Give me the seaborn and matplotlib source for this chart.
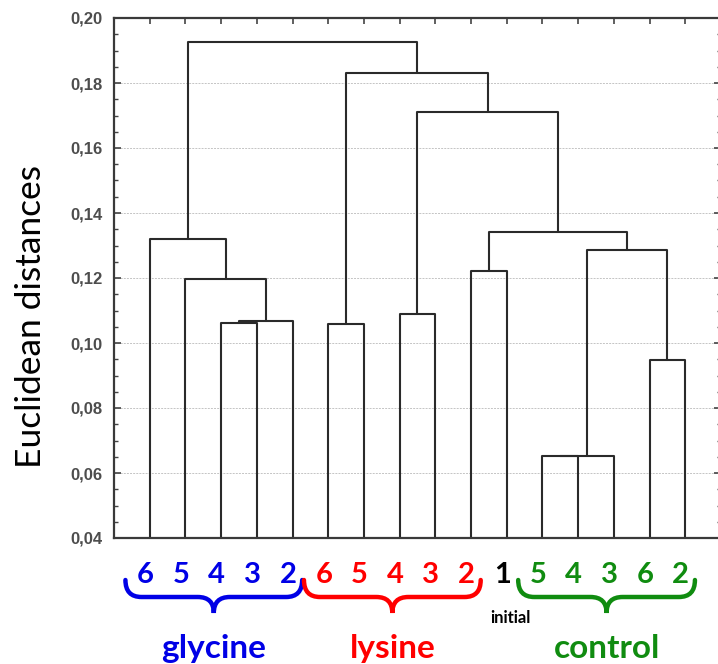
import numpy as np
import pandas as pd
import seaborn as sns
import matplotlib.pyplot as plt
from matplotlib.path import Path
from matplotlib.patches import PathPatch
from matplotlib.ticker import MultipleLocator, FuncFormatter

# leaves in display order
leaf_labels = ['6', '5', '4', '3', '2', '6', '5', '4', '3', '2', '1', '5', '4', '3', '6', '2']
leaf_colors = ['#0000e6'] * 5 + ['#ff0000'] * 5 + ['#000000'] + ['#108c10'] * 5

# merges (left child, right child, distance) -- scipy style ids, leaves 0..15
merge_left = [2, 16, 1, 0, 5, 7, 9, 11, 23, 14, 24, 22, 21, 20, 19]
merge_right = [3, 4, 17, 18, 6, 8, 10, 12, 13, 15, 25, 26, 27, 28, 29]
merge_dist = [0.1063, 0.1069, 0.1197, 0.1319, 0.1058, 0.1089, 0.1222,
              0.0652, 0.0652, 0.0948, 0.1286, 0.1341, 0.1712, 0.1830, 0.1925]

groups = ['glycine', 'lysine', 'control']
group_first = [0, 5, 11]
group_last = [4, 9, 15]
group_colors = ['#0000e6', '#ff0000', '#108c10']

y_min, y_max = 0.04, 0.20

sns.set_style('white')
plt.rcParams['font.family'] = ['Lato', 'DejaVu Sans']

# coordinates of each link
n = len(leaf_labels)
xpos = {i: float(i) for i in range(n)}
hpos = {i: y_min for i in range(n)}
rows = []
for k, (a, b, d) in enumerate(zip(merge_left, merge_right, merge_dist)):
    node = n + k
    xa, xb = xpos[a], xpos[b]
    for x, y in [(xa, hpos[a]), (xa, d), (xb, d), (xb, hpos[b])]:
        rows.append({'link': k, 'x': x, 'y': y})
    xpos[node] = (xa + xb) / 2
    hpos[node] = d
links = pd.DataFrame(rows)

fig = plt.figure(figsize=(7.18, 6.64), dpi=100)
ax = fig.add_axes([114 / 718, 1 - 538 / 664, 607 / 718, 520 / 664])

ax.yaxis.grid(True, color='#c4c4c4', linestyle=(0, (2, 1.2)), linewidth=0.7)
ax.set_axisbelow(True)

sns.lineplot(data=links, x='x', y='y', units='link', estimator=None, sort=False,
             color='#2a2a2a', linewidth=1.5, ax=ax, legend=False)

ax.set_xlim(-1, n)
ax.set_ylim(y_min, y_max)
ax.set_xlabel('')
ax.set_ylabel('')

ax.yaxis.set_major_locator(MultipleLocator(0.02))
ax.yaxis.set_minor_locator(MultipleLocator(0.005))
ax.yaxis.set_major_formatter(FuncFormatter(lambda v, p: f'{v:.2f}'.replace('.', ',')))
ax.tick_params(axis='y', which='major', direction='in', left=True, right=True,
               length=5, width=1.2, color='#444444', pad=8, labelsize=12,
               labelcolor='#4d4d4d')
ax.tick_params(axis='y', which='minor', direction='in', left=True, right=True,
               length=3, width=1.0, color='#444444')
for t in ax.get_yticklabels():
    t.set_fontfamily('Liberation Sans')
    t.set_fontweight('bold')

ax.set_xticks(range(n))
ax.tick_params(axis='x', direction='in', top=True, bottom=False, labelbottom=False,
               length=4, width=1.2, color='#444444')

for s in ax.spines.values():
    s.set_color('#3a3a3a')
    s.set_linewidth(1.6)

# leaf labels
xt = ax.get_xaxis_transform()
for i, (lab, col) in enumerate(zip(leaf_labels, leaf_colors)):
    ax.annotate(lab, xy=(i, 0), xycoords=xt, xytext=(-3.2, -26.6),
                textcoords='offset points', ha='center', va='center',
                fontsize=21, fontweight='bold', color=col, annotation_clip=False)

# braces under the groups
y_end, y_mid, y_tip = -42 / 520, -59 / 520, -75 / 520
r = 0.45
for g, a, b, col in zip(groups, group_first, group_last, group_colors):
    x0, x1 = a - 0.68, b + 0.27
    xm = (x0 + x1) / 2
    verts = [(x0, y_end), (x0, y_mid), (x0 + r, y_mid),
             (xm - r, y_mid), (xm, y_mid), (xm, y_tip),
             (xm, y_mid), (xm + r, y_mid),
             (x1 - r, y_mid), (x1, y_mid), (x1, y_end)]
    codes = [Path.MOVETO, Path.CURVE3, Path.CURVE3,
             Path.LINETO, Path.CURVE3, Path.CURVE3,
             Path.CURVE3, Path.CURVE3,
             Path.LINETO, Path.CURVE3, Path.CURVE3]
    ax.add_patch(PathPatch(Path(verts, codes), transform=xt, fill=False,
                           edgecolor=col, linewidth=3.2, clip_on=False,
                           capstyle='round'))
    ax.annotate(g, xy=(xm, 0), xycoords=xt, xytext=(0, -86.4),
                textcoords='offset points', ha='center', va='baseline',
                fontsize=24, fontweight='bold', color=col, annotation_clip=False)

ax.annotate('initial', xy=(10, 0), xycoords=xt, xytext=(2.5, -61),
            textcoords='offset points', ha='center', va='baseline',
            fontsize=12, fontweight='bold', color='black', annotation_clip=False)

fig.text(31 / 718, 1 - 317 / 664, 'Euclidean distances', rotation=90,
         ha='center', va='center', fontsize=25.5, color='black')

fig.savefig('out.png', dpi=100)
